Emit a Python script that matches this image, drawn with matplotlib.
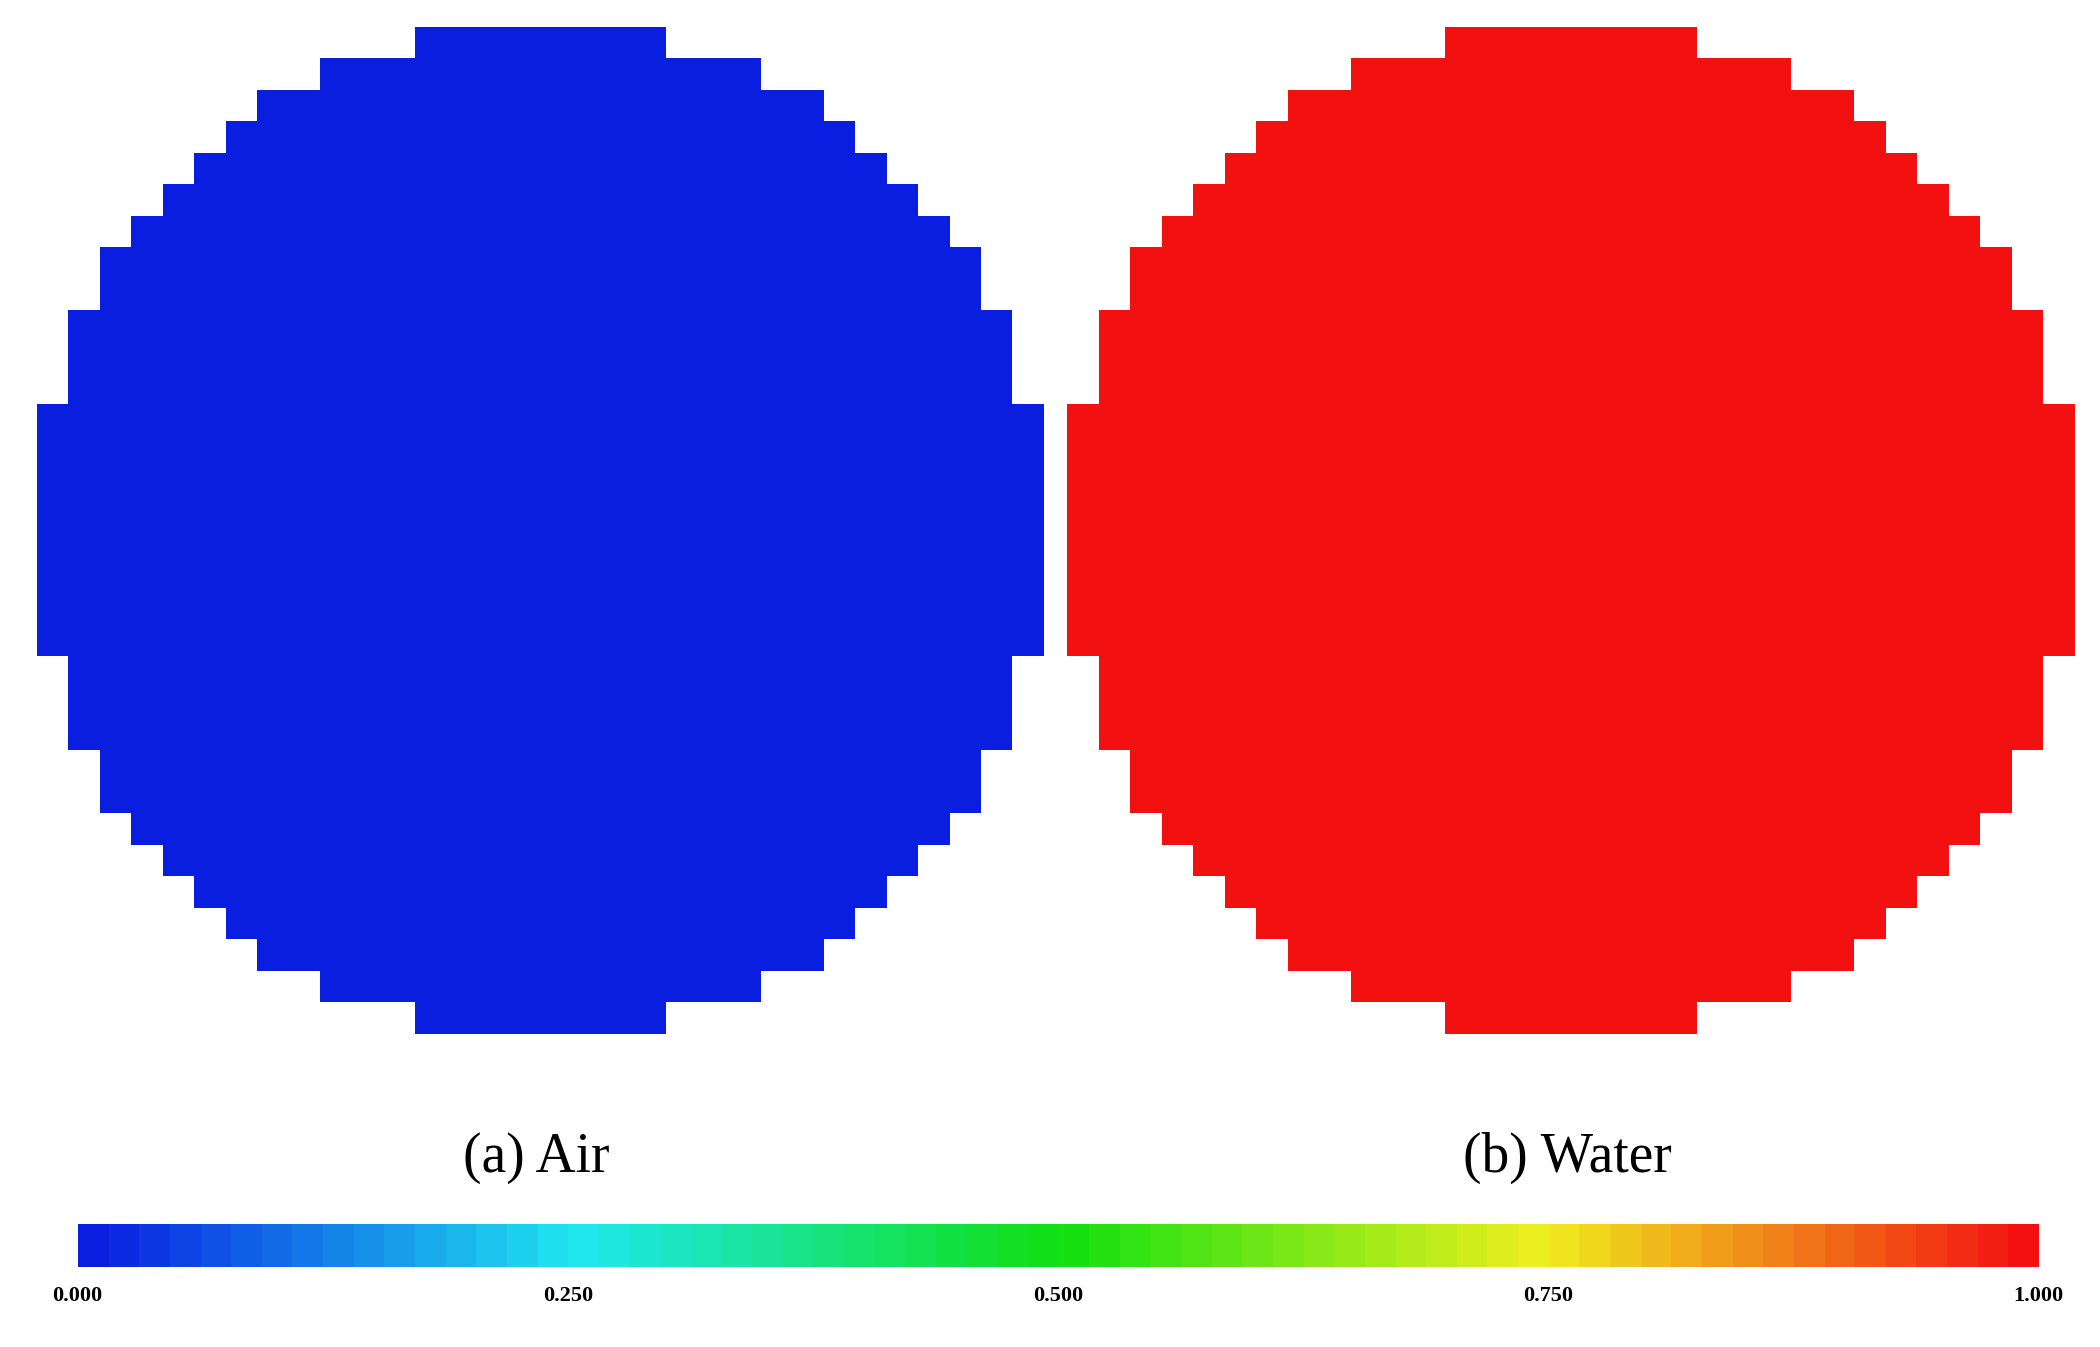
import numpy as np
import matplotlib
matplotlib.use("Agg")
import matplotlib.pyplot as plt
from matplotlib.colors import LinearSegmentedColormap

# Half-widths (in cells) of the top half rows of the pixelated disk
half_widths_top = [4, 7, 9, 10, 11, 12, 13, 14, 14, 15, 15, 15, 16, 16, 16, 16]
panel_values = [0.0, 1.0]
panel_labels = ["(a) Air", "(b) Water"]
tick_values = [0.0, 0.25, 0.5, 0.75, 1.0]
tick_labels = ["0.000", "0.250", "0.500", "0.750", "1.000"]

cmap = LinearSegmentedColormap.from_list(
    "pv", [(0.0, "#0a1ee0"), (0.25, "#20e8f0"), (0.5, "#10e010"),
           (0.75, "#f0f020"), (1.0, "#f21010")], N=64)

W, H = 1568, 1006
fig = plt.figure(figsize=(21, 13.47), dpi=100)
ax = fig.add_axes([0, 0, 1, 1])
ax.set_xlim(0, W); ax.set_ylim(H, 0); ax.axis("off")

hw = half_widths_top + half_widths_top[::-1]
n = 32
cell = 23.5
for cx, val, lab in zip([403.5, 1173.0], panel_values, panel_labels):
    grid = np.full((n, n), np.nan)
    for r, h in enumerate(hw):
        grid[r, 16 - h:16 + h] = val
    xs = cx + (np.arange(n + 1) - 16) * cell
    ys = 20 + np.arange(n + 1) * cell
    ax.pcolormesh(xs, ys, np.ma.masked_invalid(grid), cmap=cmap, vmin=0, vmax=1)
    ax.text(cx - 3, 865, lab, ha="center", va="center", fontsize=40,
            family="Liberation Serif")

cax = fig.add_axes([58 / W, 1 - 946 / H, (1522 - 58) / W, 32 / H])
grad = np.linspace(0, 1, 512)[None, :]
cax.imshow(grad, aspect="auto", cmap=cmap, extent=[0, 1, 0, 1])
cax.set_yticks([])
cax.set_xticks(tick_values)
cax.set_xticklabels(tick_labels, family="Liberation Serif", fontweight="bold", fontsize=16)
cax.tick_params(axis="x", length=0, pad=14)
for s in cax.spines.values():
    s.set_visible(False)

fig.savefig("out.png", dpi=100)
